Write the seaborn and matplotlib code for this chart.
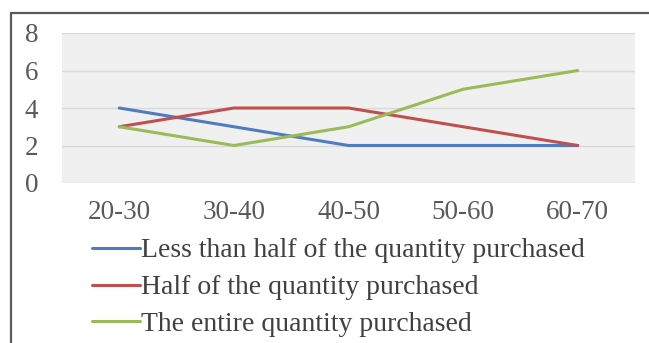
import matplotlib
matplotlib.use("Agg")
import matplotlib.pyplot as plt
from matplotlib.lines import Line2D
import seaborn as sns
import pandas as pd

age_groups = ["20-30", "30-40", "40-50", "50-60", "60-70"]
less_than_half = [4, 3, 2, 2, 2]
half = [3, 4, 4, 3, 2]
entire = [3, 2, 3, 5, 6]
series_names = [
    "Less than half of the quantity purchased",
    "Half of the quantity purchased",
    "The entire quantity purchased",
]
y_ticks = [0, 2, 4, 6, 8]

df = pd.DataFrame({
    "age": age_groups * 3,
    "count": less_than_half + half + entire,
    "series": [series_names[0]] * 5 + [series_names[1]] * 5 + [series_names[2]] * 5,
})

sns.set_theme(style="white")
plt.rcParams["font.family"] = ["Liberation Serif", "DejaVu Serif"]

colors = ["#4F7CC0", "#C0504D", "#9BBB59"]

fig = plt.figure(figsize=(6.49, 3.43), dpi=100)
ax = fig.add_axes([62 / 649, 1 - 183 / 343, (635 - 62) / 649, (183 - 33) / 343])
ax.set_facecolor("#F0F0F0")

sns.lineplot(data=df, x="age", y="count", hue="series", palette=colors,
             linewidth=2.2, ax=ax, legend=False, sort=False)

ax.set_xlim(-0.5, 4.5)
ax.set_ylim(0, 8)
ax.set_yticks(y_ticks)
ax.set_yticklabels([str(v) for v in y_ticks])
ax.grid(axis="y", color="#D9D9D9", linewidth=1.0)
ax.grid(axis="x", visible=False)
ax.set_axisbelow(True)
for s in ax.spines.values():
    s.set_visible(False)
ax.set_xlabel("")
ax.set_ylabel("")
ax.tick_params(axis="y", length=0, pad=17, labelsize=19.5, labelcolor="#595959")
ax.tick_params(axis="x", length=0, pad=12, labelsize=19.5, labelcolor="#595959")

handles = [Line2D([], [], color=c, linewidth=2.2) for c in colors]
fig.legend(handles, series_names, loc="upper left",
           bbox_to_anchor=(92 / 649, 1 - 238 / 343), frameon=False,
           fontsize=20, handlelength=1.73, handletextpad=0.03,
           labelspacing=0.41, labelcolor="#404040", borderaxespad=0, borderpad=0)

# frame edges along the left and top
fig.add_artist(Line2D([10.5 / 649, 10.5 / 649], [0, 1 - 13 / 343],
                      transform=fig.transFigure, color="#5A5A5A", linewidth=1.6))
fig.add_artist(Line2D([10.5 / 649, 1], [1 - 13 / 343, 1 - 13 / 343],
                      transform=fig.transFigure, color="#5A5A5A", linewidth=1.6))

fig.savefig("out.png", dpi=100)
